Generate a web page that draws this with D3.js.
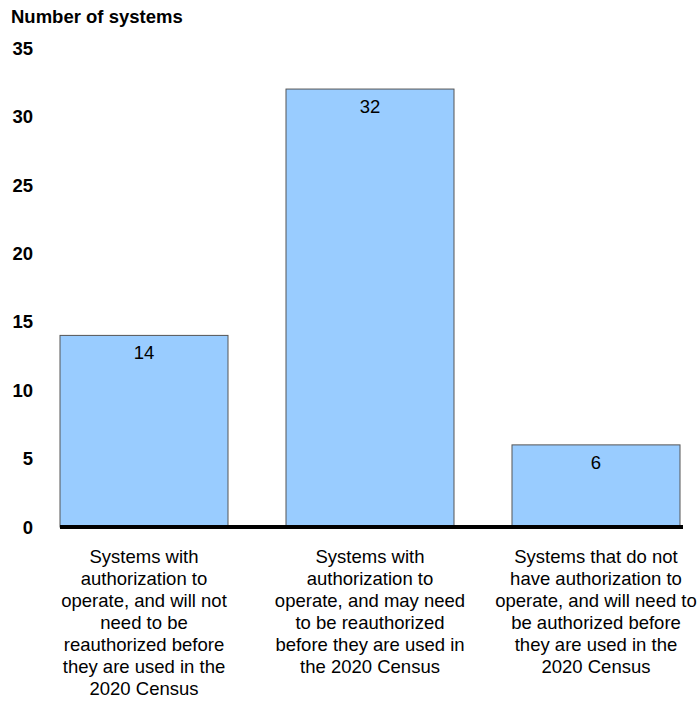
<!DOCTYPE html>
<html>
<head>
<meta charset="utf-8">
<script src="https://cdn.jsdelivr.net/npm/d3@7"></script>
<style>
  body { margin: 0; background: #fff; }
  text { font-family: "Liberation Sans", Arial, sans-serif; }
</style>
</head>
<body>
<div id="main"></div>
<script>
const W = 700;
const H = 701;

// data
var categories = [
    ["Systems with", "authorization to", "operate, and will not", "need to be", "reauthorized before", "they are used in the", "2020 Census"],
    ["Systems with", "authorization to", "operate, and may need", "to be reauthorized", "before they are used in", "the 2020 Census"],
    ["Systems that do not", "have authorization to", "operate, and will need to", "be authorized before", "they are used in the", "2020 Census"]
];
var values = [14, 32, 6];
var yTicks = [0, 5, 10, 15, 20, 25, 30, 35];

var svg = d3.select("#main").append("svg")
    .attr("width", W)
    .attr("height", H);

var x = d3.scaleBand()
    .domain(d3.range(values.length))
    .range([60, 680])
    .paddingInner(0.2566)
    .paddingOuter(0);

var y = d3.scaleLinear().domain([0, 35]).range([527, 48]);

svg.append("text")
    .attr("x", 11)
    .attr("y", 23)
    .style("font-size", "18.5px")
    .style("font-weight", "bold")
    .text("Number of systems");

// y tick labels
svg.selectAll("text.ytick")
    .data(yTicks)
    .enter()
    .append("text")
    .attr("class", "ytick")
    .attr("x", 33)
    .attr("y", d => y(d))
    .attr("dy", "0.36em")
    .attr("text-anchor", "end")
    .style("font-size", "18.5px")
    .style("font-weight", "bold")
    .text(d => d);

svg.selectAll("rect.bar")
    .data(values)
    .enter()
    .append("rect")
    .attr("class", "bar")
    .attr("x", (d, i) => x(i))
    .attr("y", d => y(d))
    .attr("width", x.bandwidth())
    .attr("height", d => y(0) - y(d))
    .style("fill", "#99CCFF")
    .style("stroke", "#555")
    .style("stroke-width", 1);

svg.selectAll("text.val")
    .data(values)
    .enter()
    .append("text")
    .attr("class", "val")
    .attr("x", (d, i) => x(i) + x.bandwidth() / 2)
    .attr("y", d => y(d) + 24)
    .attr("text-anchor", "middle")
    .style("font-size", "18.5px")
    .text(d => d);

// thick baseline
svg.append("line")
    .attr("x1", x(0))
    .attr("x2", x(2) + x.bandwidth() + 3)
    .attr("y1", y(0))
    .attr("y2", y(0))
    .style("stroke", "#000")
    .style("stroke-width", 4);

// category labels
var cat = svg.selectAll("text.cat")
    .data(categories)
    .enter()
    .append("text")
    .attr("class", "cat")
    .attr("text-anchor", "middle")
    .style("font-size", "18.5px");

cat.selectAll("tspan")
    .data((d, i) => d.map(s => ({s: s, i: i})))
    .enter()
    .append("tspan")
    .attr("x", d => x(d.i) + x.bandwidth() / 2)
    .attr("y", (d, j) => 563 + j * 22)
    .text(d => d.s);
</script>
</body>
</html>
